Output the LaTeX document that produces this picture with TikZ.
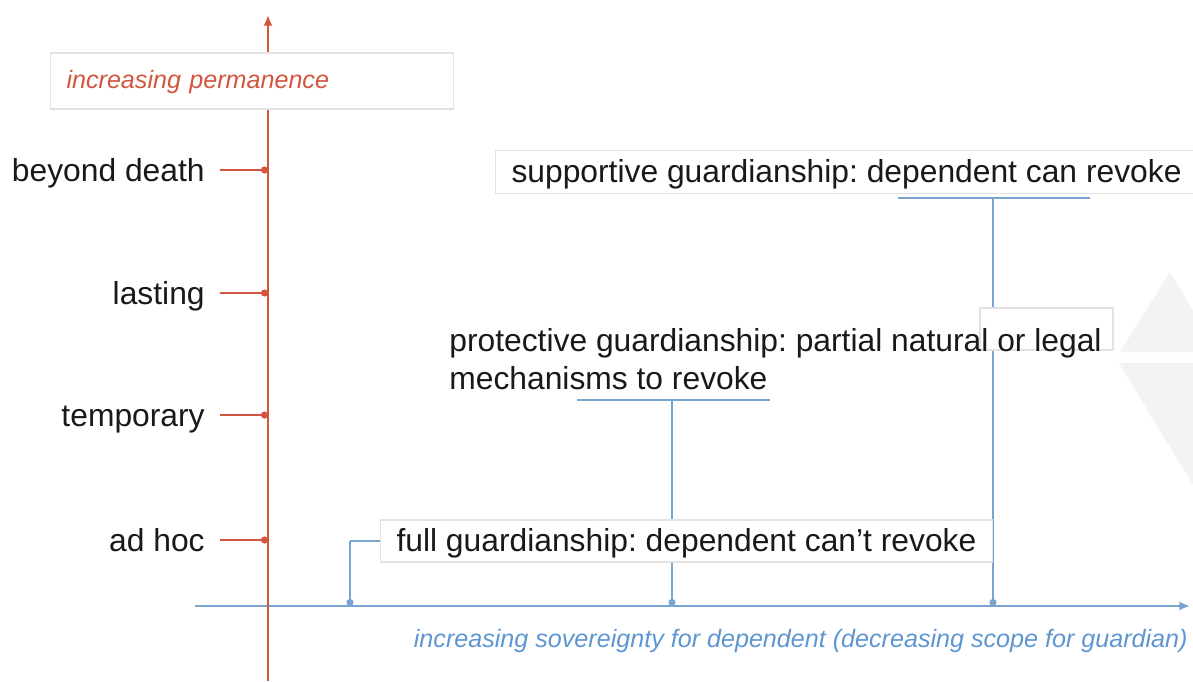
\documentclass[tikz,border=0pt]{standalone}
\usepackage{fontspec}
\setmainfont{Liberation Sans}
\usetikzlibrary{arrows.meta}
\frenchspacing
\definecolor{permred}{RGB}{212,85,62}
\definecolor{sovblue}{RGB}{122,163,208}
\definecolor{sovtext}{RGB}{94,150,210}
\definecolor{boxline}{RGB}{226,226,226}
\definecolor{backshape}{RGB}{243,243,243}
\definecolor{ink}{RGB}{25,25,25}
\pgfdeclarelayer{back}
\pgfsetlayers{back,main}
\tikzset{
  redline/.style={permred,line width=1.1pt},
  blueline/.style={sovblue,line width=1.1pt},
  reddot/.style={redline,-{Circle[length=4pt]}},
  bluedot/.style={blueline,-{Circle[length=4pt]}},
  bigfont/.style={font=\fontsize{18.1}{21.6}\selectfont},
  level/.style={bigfont,anchor=east,inner sep=0pt,text height=13pt,text depth=0pt,text=ink},
  labelbox/.style={bigfont,draw=boxline,line width=0.6pt,fill=white,anchor=west,
    inner xsep=0.32cm,inner ysep=0pt,text height=14pt,text depth=1.5pt,text=ink},
  axislabel/.style={font=\fontsize{14.3}{17}\selectfont\itshape}
}
\begin{document}
\begin{tikzpicture}[x=0.02cm,y=-0.02cm]
\useasboundingbox (0,0) rectangle (1193,681);

\coordinate (ybot) at (268,681);
\coordinate (ytop) at (268,15);
\coordinate (xleft) at (195,606);
\coordinate (xright) at (1190,606);

\node[labelbox,axislabel,text=permred,minimum width=8.06cm,minimum height=1.12cm,
  text width=7.42cm,text height=11pt,text depth=2pt] (perm) at (50,81) {increasing permanence};
\node[axislabel,text=sovtext,anchor=base east,inner sep=0pt] (sov) at (1188,647)
  {increasing sovereignty for dependent (decreasing scope for guardian)};

\node[level] (death) at (205,170) {beyond death};
\node[level] (lasting) at (205,293) {lasting};
\node[level] (temp) at (205,415) {temporary};
\node[level] (adhoc) at (205,540) {ad hoc};

\node[labelbox,minimum height=0.86cm] (supp) at (495,172)
  {supportive guardianship: dependent can revoke};
\node[labelbox,minimum height=0.84cm] (full) at (380,541)
  {full guardianship: dependent can’t revoke};
\draw[boxline,line width=0.6pt,fill=white] (980,308) rectangle (1113,350);
\node[bigfont,anchor=base west,align=left,inner sep=0pt,text=ink] (prot) at (449,389)
  {protective guardianship: partial natural or legal\\mechanisms to revoke};

\coordinate (protbar) at (672,400);
\coordinate (suppbar) at (993,198);

\begin{pgfonlayer}{back}
\fill[backshape] (1120,352) -- (1170,272) -- (1193,310) -- (1193,352) -- cycle;
\fill[backshape] (1119,363) -- (1193,363) -- (1193,485) -- cycle;

\draw[blueline,-{Latex[length=6pt,width=5pt]}] (xleft) -- (xright);
\draw[redline,-{Latex[length=6pt,width=5pt]}] (ybot) -- (ytop);

\draw[reddot] ([xshift=0.3cm]death.east) -- (death.east -| ytop);
\draw[reddot] ([xshift=0.3cm]lasting.east) -- (lasting.east -| ytop);
\draw[reddot] ([xshift=0.3cm]temp.east) -- (temp.east -| ytop);
\draw[reddot] ([xshift=0.3cm]adhoc.east) -- (adhoc.east -| ytop);

\draw[blueline] (full.west) -- ++(-30,0) coordinate (fullbend);
\draw[bluedot] (fullbend) -- (fullbend |- xleft);
\draw[blueline] ([xshift=-1.9cm]protbar) -- ([xshift=1.96cm]protbar);
\draw[bluedot] (protbar) -- (protbar |- xleft);
\draw[blueline] ([xshift=-1.9cm]suppbar) -- ([xshift=1.94cm]suppbar);
\draw[bluedot] (suppbar) -- (suppbar |- xleft);
\end{pgfonlayer}
\end{tikzpicture}
\end{document}
